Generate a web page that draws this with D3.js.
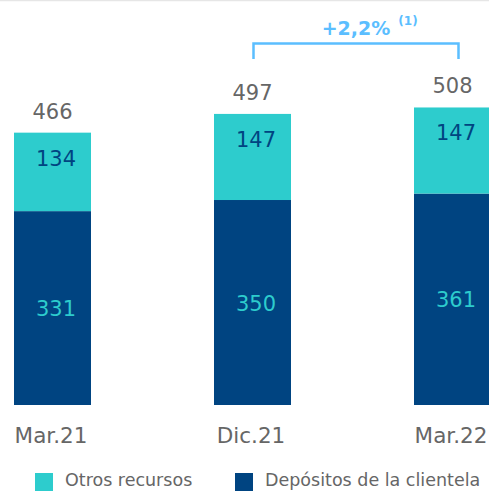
<!DOCTYPE html>
<html><head><meta charset="utf-8">
<script src="https://cdn.jsdelivr.net/npm/d3@7"></script>
<style>html,body{margin:0;padding:0;background:#fff;}svg{display:block;}</style>
</head><body>
<svg id="c" width="489" height="491"></svg>
<script>
const categories = ["Mar.21", "Dic.21", "Mar.22"];
const depositos = [331, 350, 361];
const otros = [134, 147, 147];
const totals = [466, 497, 508];
const seriesNames = ["Otros recursos", "Depósitos de la clientela"];
const growthLabel = "+2,2%";
const growthNote = "(1)";

const TEAL = "#2dcccd", DARK = "#004481", GRAY = "#666666", BLUE = "#5bbeff";
const FONT = "DejaVu Sans, Verdana, sans-serif";

const svg = d3.select("#c");
svg.append("line").attr("x1",0).attr("x2",489).attr("y1",0.5).attr("y2",0.5)
  .attr("stroke","#e6e6e6").attr("stroke-width",1.5);

const x = d3.scaleBand().domain(categories).range([14, 491]).paddingInner(0.615).paddingOuter(0);
const y = d3.scaleLinear().domain([0, 510]).range([405, 106.3]);
const bw = x.bandwidth();

const data = categories.map((c,i)=>({c, d: depositos[i], o: otros[i], t: totals[i]}));

const g = svg.append("g");
g.selectAll(".dep").data(data).join("rect")
  .attr("x", d=>x(d.c)).attr("width", bw)
  .attr("y", d=>y(d.d)).attr("height", d=>y(0)-y(d.d)).attr("fill", DARK);
g.selectAll(".otr").data(data).join("rect")
  .attr("x", d=>x(d.c)).attr("width", bw)
  .attr("y", d=>y(d.d+d.o)).attr("height", d=>y(d.d)-y(d.d+d.o)).attr("fill", TEAL);

// value labels
g.selectAll(".tl").data(data).join("text")
  .attr("x", d=>x(d.c)+bw/2).attr("y", d=>y(d.d+d.o)-14)
  .attr("text-anchor","middle").attr("font-family",FONT).attr("font-size",21)
  .attr("fill",GRAY).text(d=>d.t);
g.selectAll(".ol").data(data).join("text")
  .attr("x", d=>x(d.c)+bw/2+3.5).attr("y", d=>y(d.d+d.o)+33)
  .attr("text-anchor","middle").attr("font-family",FONT).attr("font-size",21)
  .attr("fill",DARK).text(d=>d.o);
g.selectAll(".dl").data(data).join("text")
  .attr("x", d=>x(d.c)+bw/2+3.5).attr("y", d=>(y(d.d)+y(0))/2+8)
  .attr("text-anchor","middle").attr("font-family",FONT).attr("font-size",21)
  .attr("fill",TEAL).text(d=>d.d);

// x axis
const xa = svg.append("g").attr("transform","translate(0,405)")
  .call(d3.axisBottom(x).tickSize(0).tickPadding(0));
xa.select(".domain").remove();
xa.selectAll("text").attr("font-family",FONT).attr("font-size",21.5).attr("fill",GRAY)
  .attr("dy",0).attr("y",38).attr("dx",-1.5);

// growth bracket
const bx1 = x("Dic.21")+bw/2+1, bx2 = x("Mar.22")+bw/2+6;
svg.append("path")
  .attr("d", `M${bx1},59V43.5H${bx2}V59`)
  .attr("fill","none").attr("stroke",BLUE).attr("stroke-width",2.5);
svg.append("text").attr("x",(bx1+bx2)/2).attr("y",35).attr("text-anchor","middle")
  .attr("font-family",FONT).attr("font-weight","bold").attr("font-size",19)
  .attr("fill",BLUE).text(growthLabel);
svg.append("text").attr("x",408).attr("y",25).attr("text-anchor","middle")
  .attr("font-family",FONT).attr("font-weight","bold").attr("font-size",12)
  .attr("fill",BLUE).text(growthNote);

// legend
const legX = [35, 235], legC = [TEAL, DARK];
const lg = svg.append("g");
seriesNames.forEach((n,i)=>{
  lg.append("rect").attr("x",legX[i]).attr("y",473).attr("width",18).attr("height",18).attr("fill",legC[i]);
  lg.append("text").attr("x",legX[i]+30).attr("y",486).attr("font-family",FONT)
    .attr("font-size",17.5).attr("fill",GRAY).text(n);
});
</script>
</body></html>
